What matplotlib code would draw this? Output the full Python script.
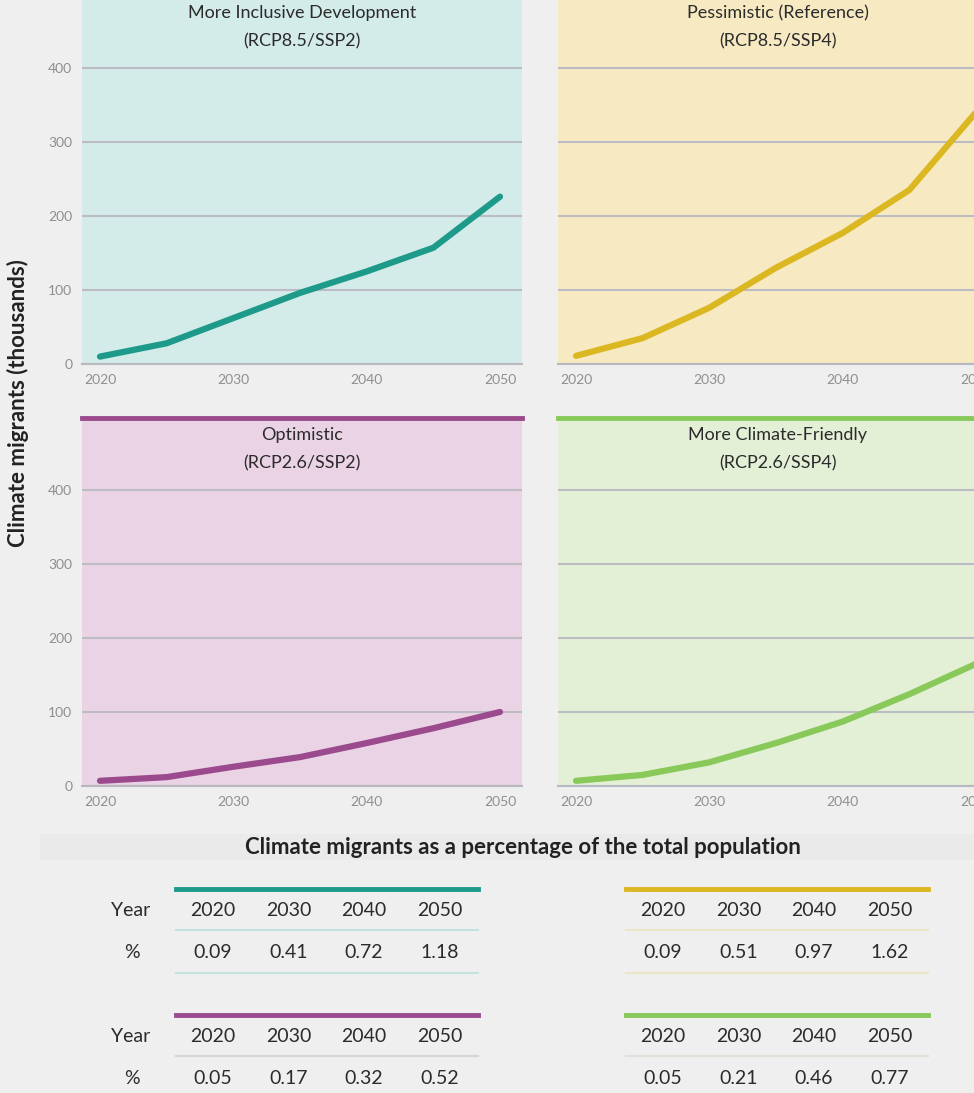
import matplotlib
matplotlib.use("Agg")
import matplotlib.pyplot as plt
from matplotlib.lines import Line2D
from matplotlib.patches import Rectangle

# Размер картинки в пикселях
W, H = 974, 1093

# Данные графиков (тыс. климатических мигрантов)
years = [2020, 2025, 2030, 2035, 2040, 2045, 2050]
inclusive = [10, 28, 62, 96, 125, 157, 226]
pessimistic = [11, 35, 76, 130, 177, 235, 340]
optimistic = [7, 12, 26, 39, 58, 78, 100]
climate_friendly = [7, 15, 32, 58, 87, 124, 165]

# Данные таблиц (% от всего населения)
table_years = [2020, 2030, 2040, 2050]
pct_inclusive = [0.09, 0.41, 0.72, 1.18]
pct_pessimistic = [0.09, 0.51, 0.97, 1.62]
pct_optimistic = [0.05, 0.17, 0.32, 0.52]
pct_climate_friendly = [0.05, 0.21, 0.46, 0.77]

BG = "#efefef"
TEXT = "#2b2b2b"
plt.rcParams['font.family'] = ['Lato', 'DejaVu Sans']


def fx(x):
    return x / W


def fy(y):
    return 1 - y / H


fig = plt.figure(figsize=(W / 100, H / 100), dpi=100, facecolor=BG)

panels = [
    # left, top, values, title, subtitle, line colour, background, y labels
    (82, -4, inclusive, "More Inclusive Development", "(RCP8.5/SSP2)", "#1e9a8b", "#d4ece9", True),
    (558, -4, pessimistic, "Pessimistic (Reference)", "(RCP8.5/SSP4)", "#dbb722", "#f7eac2", False),
    (82, 418, optimistic, "Optimistic", "(RCP2.6/SSP2)", "#9a4a8d", "#ebd3e6", True),
    (558, 418, climate_friendly, "More Climate-Friendly", "(RCP2.6/SSP4)", "#88c95a", "#e3f0d6", False),
]

pw, ph = 440, 368
for left, top, vals, title, sub, color, bg, ylabels in panels:
    ax = fig.add_axes([fx(left), fy(top + ph), pw / W, ph / H])
    ax.set_facecolor(bg)
    ax.plot(years, vals, color=color, lw=4.5, solid_capstyle='round', zorder=3)
    ax.set_xlim(2018.65, 2051.65)
    ax.set_ylim(0, 497)
    ax.set_xticks([2020, 2030, 2040, 2050])
    ax.set_yticks([0, 100, 200, 300, 400])
    ax.yaxis.grid(True, color="#bcbcc4", lw=1.5)
    ax.set_axisbelow(True)
    ax.tick_params(length=0, labelsize=10, colors="#8f8f8f", pad=7)
    if not ylabels:
        ax.set_yticklabels([])
    for s in ["left", "right"]:
        ax.spines[s].set_visible(False)
    ax.spines["bottom"].set_color("#b8b8c0")
    ax.spines["bottom"].set_linewidth(1.5)
    ax.spines["top"].set_color(color)
    ax.spines["top"].set_linewidth(3.5)
    ax.text(0.5, 1 - 17 / ph, title, transform=ax.transAxes, ha="center", va="center",
            fontsize=13, color=TEXT)
    ax.text(0.5, 1 - 45 / ph, sub, transform=ax.transAxes, ha="center", va="center",
            fontsize=13, color=TEXT)

fig.text(fx(18), fy(403), "Climate migrants (thousands)", rotation=90, ha="center", va="center",
         fontsize=16, fontweight="bold", color="#222222")

# Подзаголовок таблиц
fig.patches.append(Rectangle((fx(40), fy(860)), 1, 26 / H, transform=fig.transFigure,
                             facecolor="#eaeaea", edgecolor="none", zorder=0))
fig.text(fx(523), fy(848), "Climate migrants as a percentage of the total population",
         ha="center", va="center", fontsize=16, fontweight="bold", color="#222222")

tables = [
    (176, 889, pct_inclusive, "#1e9a8b", "#c3e2de", True),
    (626, 889, pct_pessimistic, "#dbb722", "#ebe6c6", False),
    (176, 1015, pct_optimistic, "#9a4a8d", "#d8d4d9", True),
    (626, 1015, pct_climate_friendly, "#88c95a", "#dde2d8", False),
]

for x0, y0, pcts, color, sep, label in tables:
    x1 = x0 + 302
    fig.add_artist(Line2D([fx(x0), fx(x1)], [fy(y0), fy(y0)], color=color, lw=3.5))
    for dy in (41, 84):
        fig.add_artist(Line2D([fx(x0), fx(x1)], [fy(y0 + dy), fy(y0 + dy)], color=sep, lw=1.5))
    if label:
        fig.text(fx(131), fy(y0 + 21), "Year", ha="center", va="center", fontsize=14, color=TEXT)
        fig.text(fx(132), fy(y0 + 64), "%", ha="center", va="center", fontsize=14, color=TEXT)
    for i, (yr, p) in enumerate(zip(table_years, pcts)):
        cx = x0 + 37 + 75.5 * i
        fig.text(fx(cx), fy(y0 + 21), str(yr), ha="center", va="center", fontsize=14, color=TEXT)
        fig.text(fx(cx), fy(y0 + 64), f"{p:.2f}", ha="center", va="center", fontsize=14, color=TEXT)

fig.savefig("out.png", dpi=100, facecolor=BG)
